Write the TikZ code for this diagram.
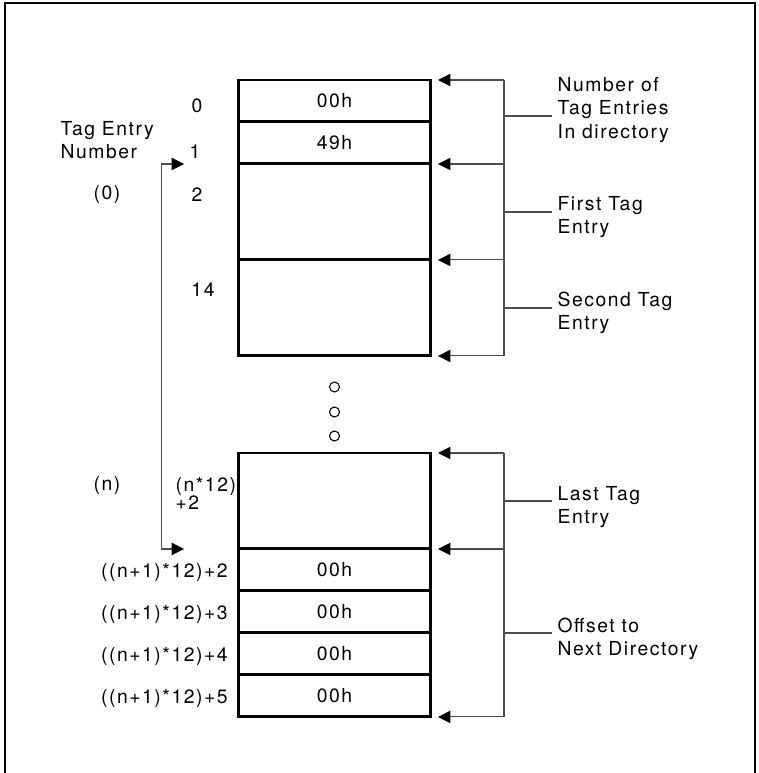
\documentclass[tikz,border=0pt]{standalone}
\usepackage{fontspec}
\setmainfont{TeX Gyre Heros}[LetterSpace=8]
\usepackage{tikz}
\usetikzlibrary{arrows.meta, positioning}

\begin{document}
\begin{tikzpicture}[x=0.02cm, y=-0.02cm,
    >={Triangle[length=7pt, width=7pt, color=black]},
    font=\fontsize{11pt}{13.5pt}\selectfont,
    cell/.style={draw, line width=1.7pt, outer sep=0pt, inner sep=0pt, minimum width=3.86cm},
    small/.style={cell, minimum height=0.84cm},
    big/.style={cell, minimum height=1.92cm},
    brk/.style={line width=0.6pt, black!70},
    ptr/.style={brk, ->, shorten >=4pt},
    lab/.style={align=left, anchor=west, inner xsep=3pt, inner ysep=0pt},
    idx/.style={inner sep=0pt},
    dot/.style={circle, draw, line width=0.6pt, minimum size=0.2cm, inner sep=0pt}]
    \useasboundingbox (0,0) rectangle (758,773);
    % Rahmen
    \draw[line width=1pt] (5,773) -- (5,3) -- (755,3) -- (755,773);

    % erster Block
    \node[small, anchor=north] (c0) at (334.5,80) {00h};
    \node[small, below=0pt of c0] (c1) {49h};
    \node[big, below=0pt of c1] (e1) {};
    \node[big, below=0pt of e1] (e2) {};

    % Punkte
    \node[dot] (d1) at (334.5,387) {};
    \node[dot] (d2) at (334.5,412) {};
    \node[dot] (d3) at (334.5,436) {};

    % letzter Eintrag und Offset
    \node[big, anchor=north] (en) at (334.5,453) {};
    \node[small, below=0pt of en] (o1) {00h};
    \node[small, below=0pt of o1] (o2) {00h};
    \node[small, below=0pt of o2] (o3) {00h};
    \node[small, below=0pt of o3] (o4) {00h};

    % Klammern rechts
    \coordinate (bx) at (504,0);
    \draw[brk] (c0.north east -| bx) -- (e2.south east -| bx);
    \draw[brk] (en.north east -| bx) -- (o4.south east -| bx);
    \foreach \a in {c0.north east, c1.south east, e1.south east, e2.south east,
                    en.north east, en.south east, o4.south east}
        \draw[ptr] (\a -| bx) -- (\a);

    % Beschriftung rechts
    \node[lab] (l1) at (552,110) {Number of\\Tag Entries\\In directory};
    \node[lab] (l2) at (552,217) {First Tag\\Entry};
    \node[lab] (l3) at (552,313) {Second Tag\\Entry};
    \node[lab] (l4) at (552,507) {Last Tag\\Entry};
    \node[lab] (l5) at (552,639) {Offset to\\Next Directory};
    \coordinate (t1) at (504,116);
    \coordinate (t2) at (504,212);
    \coordinate (t3) at (504,308);
    \coordinate (t4) at (504,501);
    \coordinate (t5) at (504,633);
    \foreach \t/\l in {t1/l1, t2/l2, t3/l3, t4/l4, t5/l5}
        \draw[brk] (\t) -- (\t -| \l.west);

    % Beschriftung links
    \node[lab] (ten) at (55,140) {Tag Entry\\Number};
    \node[idx] (n0) at (107,195) {(0)};
    \node[idx] (nn) at (107,485) {(n)};
    \node[idx] (i0) at (197,106) {0};
    \node[idx] (i1) at (195,152) {1};
    \node[idx] (i2) at (197,195) {2};
    \node[idx] (i14) at (203,290) {14};
    \node[lab] (in) at (170,493) {(n*12)\\[-3.3pt]+2};
    \node[idx, anchor=east] (a2) at ([xshift=-0.2cm, yshift=-0.05cm]o1.west) {((n+1)*12)+2};
    \node[idx, anchor=east] (a3) at ([xshift=-0.2cm, yshift=-0.05cm]o2.west) {((n+1)*12)+3};
    \node[idx, anchor=east] (a4) at ([xshift=-0.2cm, yshift=-0.05cm]o3.west) {((n+1)*12)+4};
    \node[idx, anchor=east] (a5) at ([xshift=-0.2cm, yshift=-0.05cm]o4.west) {((n+1)*12)+5};

    % Pfeil links
    \coordinate (p0) at ([xshift=-1.08cm]c1.south west);
    \coordinate (p1) at ([xshift=-1.08cm]en.south west);
    \draw[brk, <->] (p0) -- ++(-23,0) |- (p1);
\end{tikzpicture}
\end{document}
